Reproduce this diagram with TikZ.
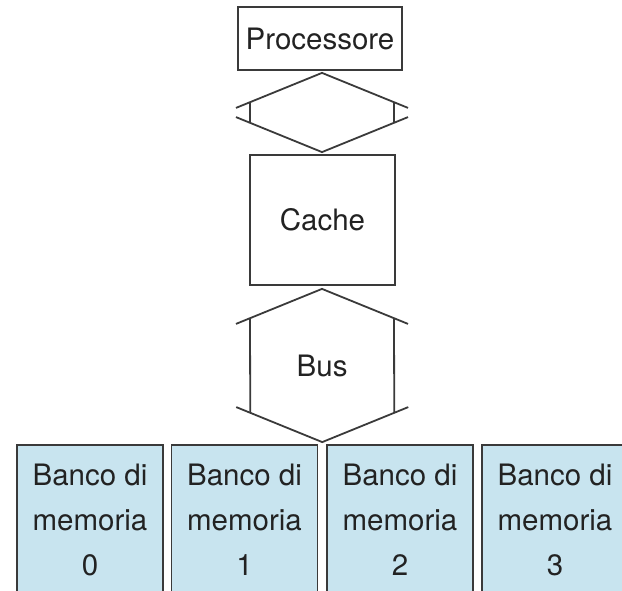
\documentclass[tikz,border=0pt]{standalone}
\usepackage{fontspec}
\setmainfont{TeX Gyre Heros}
\usetikzlibrary{calc}

\definecolor{edge}{HTML}{3A3A3A}
\definecolor{ink}{HTML}{222222}
\definecolor{bankfill}{HTML}{C8E4EF}

\tikzset{
  unit/.style={draw=edge,line width=1.8pt,inner sep=0pt,text=ink,
    font=\fontsize{29.5}{45}\selectfont,align=center},
  bank/.style={unit,fill=bankfill,minimum width=146pt,minimum height=150pt},
  link/.style={draw=edge,line width=1.8pt}
}

% double headed wide link between two points
\newcommand{\widelink}[2]{%
  \draw[link] ($(#1)+(-86,-35)$) -- (#1) -- ($(#1)+(86,-35)$);
  \draw[link] ($(#2)+(-86,35)$) -- (#2) -- ($(#2)+(86,35)$);
  \draw[link] ($(#1)+(-72,-29.3)$) -- ($(#2)+(-72,29.3)$);
  \draw[link] ($(#1)+(72,-29.3)$) -- ($(#2)+(72,29.3)$);
}

\begin{document}
\begin{tikzpicture}[x=1pt,y=1pt]
  \useasboundingbox (0,0) rectangle (622,590);
  \clip (0,0) rectangle (622,590);
  \node[unit,minimum width=164pt,minimum height=63pt] (proc) at (320,551.5) {Processore};
  \node[unit,minimum width=145pt,minimum height=130pt] (cache) at (322.5,370) {Cache};
  \foreach \i/\x in {0/90,1/244.5,2/400,3/555}{
    \node[bank] (mem\i) at (\x,70) {Banco di\\memoria\\\i};
  }
  \coordinate (uptop) at ($(proc.south)+(2,-2)$);
  \coordinate (upbot) at ($(cache.north)+(-0.5,2)$);
  \widelink{uptop}{upbot}
  \coordinate (bustop) at ($(cache.south)+(-0.5,-3)$);
  \coordinate (busbot) at ($(mem1.north east)!0.5!(mem2.north west)+(0,2)$);
  \widelink{bustop}{busbot}
  \node[text=ink,font=\fontsize{29.5}{45}\selectfont] (bus) at ($(bustop)!0.5!(busbot)$) {Bus};
\end{tikzpicture}
\end{document}
